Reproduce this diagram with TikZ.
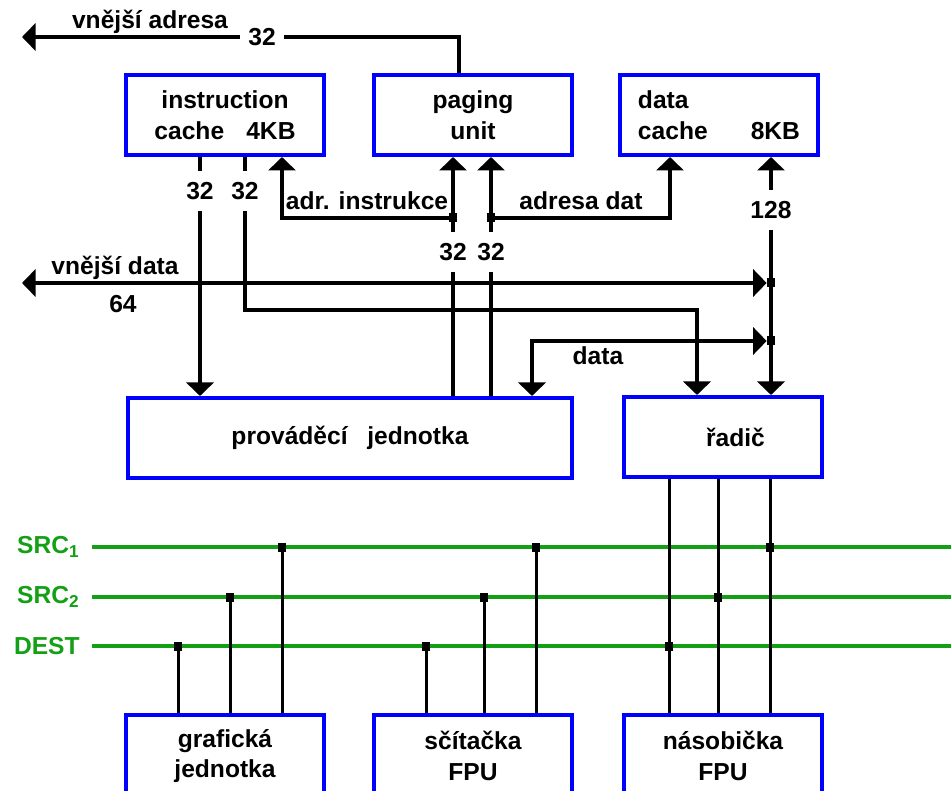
\documentclass[tikz,border=0pt]{standalone}
\usepackage{fontspec}
\setmainfont{Liberation Sans}
\usetikzlibrary{arrows.meta}
\definecolor{busgreen}{RGB}{20,160,20}
\definecolor{unitblue}{RGB}{0,0,255}

\begin{document}
\begin{tikzpicture}[x=0.2mm, y=-0.2mm, >={Triangle[length=2.7mm,width=5.4mm]}, font=\fontsize{14}{17.5}\selectfont\bfseries]
		\tikzstyle{unit} = [rectangle, draw=unitblue, line width=0.8mm, minimum width=39.6mm, minimum height=16mm, align=center]
		\tikzstyle{wire} = [line width=0.8mm]
		\tikzstyle{bits} = [inner xsep=1.5mm, inner ysep=2.2mm]
		\tikzstyle{joint} = [rectangle, fill=black, inner sep=0pt, minimum width=1.6mm, minimum height=1.8mm]
		\tikzstyle{bus} = [busgreen, line width=0.9mm]
		\tikzstyle{tap} = [line width=0.6mm]
		\tikzstyle{buslabel} = [busgreen, anchor=east, inner xsep=2.4mm, inner ysep=0pt]
		
		\clip (0,0) rectangle (951,791);
		
		\node[unit] at (225,115) (icache) {instruction\\cache\hspace{0.9em}4KB};
		\node[unit] at (473,115) (paging) {paging\\unit};
		\node[unit, align=left] at (719,115) (dcache) {data\\cache\hspace{1.75em}8KB};
		\node[unit, minimum width=88.8mm] at (350,438) (exec) {prováděcí\hspace{0.8em}jednotka};
		\node[unit] at (723,437) (ctrl) {\hspace*{5mm}řadič};
		\node[unit, minimum height=16.4mm] at (225,756) (gfx) {grafická\\jednotka};
		\node[unit, minimum height=16.4mm] at (473,756) (adder) {sčítačka\\FPU};
		\node[unit, minimum height=16.4mm] at (723,756) (mult) {násobička\\FPU};
		
		% external address
		\node[bits] at (262,37) (w0) {32};
		\coordinate (va) at (22,37);
		\node at (150,22) (valbl) {vnější adresa};
		\draw[wire] ([xshift=-2.8mm]paging.north) |- (w0);
		\draw[wire, ->] (w0) -- (va);
		
		% instruction cache outputs
		\node[bits] at (200,191) (w1) {32};
		\node[bits] at (245,191) (w2) {32};
		\coordinate (t2) at (697,310);
		\draw[wire] (icache.south -| w1) -- (w1);
		\draw[wire, ->] (w1) -- (w1 |- exec.north);
		\draw[wire] (icache.south -| w2) -- (w2);
		\draw[wire, ->] (w2) |- (t2) -- (t2 |- ctrl.north);
		
		% addresses to paging unit
		\node[bits] at (453,252) (w3) {32};
		\node[bits] at (491,252) (w4) {32};
		\node[joint] at (453,218) (ja) {};
		\node[joint] at (491,218) (jb) {};
		\draw[wire] (w3 |- exec.north) -- (w3);
		\draw[wire, ->] (w3) -- (w3 |- paging.south);
		\draw[wire] (w4 |- exec.north) -- (w4);
		\draw[wire, ->] (w4) -- (w4 |- paging.south);
		\draw[wire, ->] (ja) -| ([xshift=11.4mm]icache.south);
		\draw[wire, ->] (jb) -| ([xshift=-9.8mm]dcache.south);
		\node at (367,201) (ailbl) {adr. instrukce};
		\node at (581,201) (adlbl) {adresa dat};
		
		% data cache bus
		\node[bits] at (771,210) (w5) {128};
		\draw[wire, ->] (w5) -- (w5 |- dcache.south);
		\draw[wire, ->] (w5) -- (w5 |- ctrl.north);
		\node[joint] at (771,283) (jvd) {};
		\node[joint] at (771,341) (jd) {};
		\coordinate (vd) at (22,283);
		\draw[wire, <->] (vd) -- (jvd);
		\node at (115,268) (vdlbl) {vnější data};
		\node at (123,304) (vdbits) {64};
		\draw[wire, <->] (jd) -| ([xshift=36.4mm]exec.north);
		\node at (598,356) (dlbl) {data};
		
		% result buses
		\node[buslabel] at (92,547) (src1) {SRC\textsubscript{1}};
		\node[buslabel] at (92,597) (src2) {SRC\textsubscript{2}};
		\node[buslabel] at (92,646) (dest) {DEST};
		\coordinate (e1) at (960,547);
		\coordinate (e2) at (960,597);
		\coordinate (e3) at (960,646);
		\draw[bus] (src1) -- (e1);
		\draw[bus] (src2) -- (e2);
		\draw[bus] (dest) -- (e3);
		
		\node[joint] at (178,646) (gd) {};
		\node[joint] at (230,597) (gs2) {};
		\node[joint] at (282,547) (gs1) {};
		\node[joint] at (426,646) (ad) {};
		\node[joint] at (484,597) (as2) {};
		\node[joint] at (536,547) (as1) {};
		\node[joint] at (669,646) (md) {};
		\node[joint] at (718,597) (ms2) {};
		\node[joint] at (770,547) (ms1) {};
		
		\draw[tap] (gd) -- (gd |- gfx.north);
		\draw[tap] (gs2) -- (gs2 |- gfx.north);
		\draw[tap] (gs1) -- (gs1 |- gfx.north);
		\draw[tap] (ad) -- (ad |- adder.north);
		\draw[tap] (as2) -- (as2 |- adder.north);
		\draw[tap] (as1) -- (as1 |- adder.north);
		\draw[tap] (md |- ctrl.south) -- (md |- mult.north);
		\draw[tap] (ms2 |- ctrl.south) -- (ms2 |- mult.north);
		\draw[tap] (ms1 |- ctrl.south) -- (ms1 |- mult.north);
\end{tikzpicture}
\end{document}
